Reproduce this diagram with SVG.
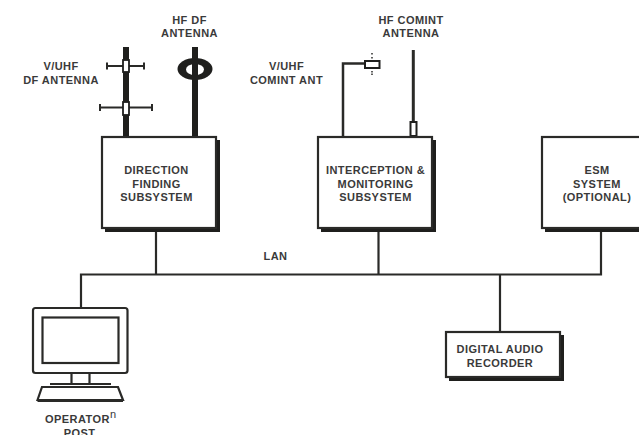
<svg xmlns="http://www.w3.org/2000/svg" width="639" height="435" viewBox="0 0 639 435">
<style>
text{font-family:"Liberation Sans",Arial,sans-serif;font-size:11px;font-weight:700;letter-spacing:.45px;fill:#3a3a3a;text-anchor:middle}
.box{fill:#fff;stroke:#2a2a28;stroke-width:2.200}
.sh{fill:#1f1f1d}
.ln{fill:none;stroke:#2a2a28;stroke-width:2.200}
.thin{fill:none;stroke:#2a2a28;stroke-width:2}
.mast{fill:none;stroke:#1f1f1d;stroke-width:6}
</style>
<rect width="639" height="435" fill="#fff"/>
<g id="connectors">
<path class="ln" d="M81 308V274.500H601V232M156 232V274.500M378.500 232V274.500M500 274.500V332"/>
<path class="ln" style="stroke-width:2.500" d="M343 137V63.500H365"/>
<path class="ln" style="stroke-width:3" d="M413.300 50V122"/>
</g>
<g id="vuhf-df-antenna">
<path class="mast" d="M126 47V137"/>
<path class="thin" d="M107 66H144M107 62.500V69.500M144 62.500V69.500M100 107.500H152M100 104V111M152 104V111"/>
<rect x="123" y="60" width="6" height="12" fill="#fff" stroke="#1f1f1d" stroke-width="1.800"/>
<rect x="123" y="102" width="6" height="13" fill="#fff" stroke="#1f1f1d" stroke-width="1.800"/>
<text><tspan x="61" y="70">V/UHF</tspan><tspan x="61" y="84">DF ANTENNA</tspan></text>
</g>
<g id="hf-df-antenna">
<ellipse cx="195" cy="69" rx="17.500" ry="11" fill="#1f1f1d"/>
<ellipse cx="195" cy="69.500" rx="9" ry="5.500" fill="#fff"/>
<path class="mast" d="M195 47V137"/>
<text><tspan x="189.500" y="24">HF DF</tspan><tspan x="189.500" y="37">ANTENNA</tspan></text>
</g>
<g id="vuhf-comint-antenna">
<rect x="365" y="61" width="14.500" height="7" fill="#fff" stroke="#1f1f1d" stroke-width="2"/>
<path d="M372 53v1.500M372 57v1.500M372 71v1.500M372 73.500v1.500" stroke="#2a2a28" stroke-width="1.500"/>
<text><tspan x="286.500" y="70">V/UHF</tspan><tspan x="286.500" y="84">COMINT ANT</tspan></text>
</g>
<g id="hf-comint-antenna">
<rect x="410.500" y="122" width="6" height="14" fill="#fff" stroke="#1f1f1d" stroke-width="2"/>
<text><tspan x="411" y="24">HF COMINT</tspan><tspan x="411" y="37">ANTENNA</tspan></text>
</g>
<g id="df-subsystem">
<rect class="sh" x="105" y="140" width="115" height="92"/>
<rect class="box" x="102" y="137" width="114" height="91"/>
<text><tspan x="156.500" y="174">DIRECTION</tspan><tspan x="156.500" y="187.500">FINDING</tspan><tspan x="156.500" y="201">SUBSYSTEM</tspan></text>
</g>
<g id="interception-subsystem">
<rect class="sh" x="321" y="140" width="115" height="92"/>
<rect class="box" x="318" y="137" width="114" height="91"/>
<text><tspan x="375.500" y="174">INTERCEPTION &amp;</tspan><tspan x="375.500" y="187.500">MONITORING</tspan><tspan x="375.500" y="201">SUBSYSTEM</tspan></text>
</g>
<g id="esm-system">
<rect class="sh" x="545" y="140" width="100" height="92"/>
<rect class="box" x="542" y="137" width="100" height="91"/>
<text><tspan x="597" y="174">ESM</tspan><tspan x="597" y="187.500">SYSTEM</tspan><tspan x="597" y="201">(OPTIONAL)</tspan></text>
</g>
<g id="lan-label"><text x="275.500" y="260">LAN</text></g>
<g id="audio-recorder">
<rect class="sh" x="449" y="335" width="115" height="46"/>
<rect class="box" x="446" y="332" width="114" height="45"/>
<text><tspan x="500" y="353">DIGITAL AUDIO</tspan><tspan x="500" y="367">RECORDER</tspan></text>
</g>
<g id="operator-post">
<rect class="ln" x="33" y="308" width="94.500" height="65" rx="2.500"/>
<rect class="ln" x="42.500" y="317.500" width="76" height="45.500"/>
<path class="ln" d="M71.500 373V384M89.500 373V384M50 384H111"/>
<path class="ln" d="M37.500 400L42 387H118L123 400Z"/>
<path class="ln" style="stroke-width:3" d="M37.500 400.500H123"/>
<text><tspan x="45" y="423" style="text-anchor:start">OPERATOR</tspan><tspan font-size="11" font-weight="400" dy="-5">n</tspan><tspan x="79.500" y="437">POST</tspan></text>
</g>
</svg>
